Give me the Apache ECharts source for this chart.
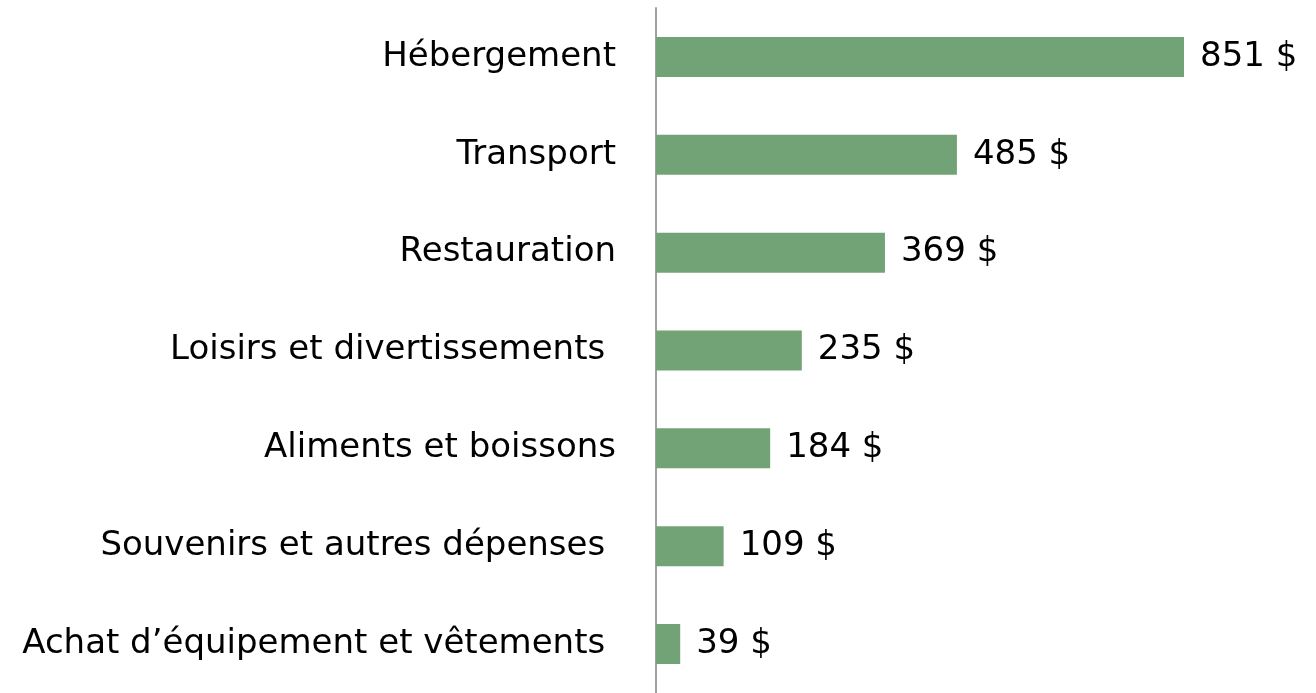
<!DOCTYPE html>
<html>
<head>
<meta charset="utf-8">
<script src="https://cdn.jsdelivr.net/npm/echarts@6/dist/echarts.min.js"></script>
<style>
  html, body { margin: 0; padding: 0; background: #fff; }
  #chart { width: 1316px; height: 693px; }
</style>
</head>
<body>
<div id="chart"></div>
<script>
// catégories (de haut en bas) et dépenses moyennes
const categories = [
  'Hébergement',
  'Transport',
  'Restauration',
  'Loisirs et divertissements ',
  'Aliments et boissons',
  'Souvenirs et autres dépenses ',
  'Achat d\u2019équipement et vêtements '
];
const values = [851, 485, 369, 235, 184, 109, 39];

const FONT = '"DejaVu Sans", sans-serif';

const chart = echarts.init(document.getElementById('chart'));
chart.setOption({
  animation: false,
  grid: { left: 656, right: 132, top: 8, height: 690 },
  xAxis: {
    type: 'value',
    min: 0,
    max: 851,
    show: false
  },
  yAxis: {
    type: 'category',
    data: categories,
    inverse: true,
    axisLine: { show: true, lineStyle: { color: '#a0a0a0', width: 2 } },
    axisTick: { show: false },
    axisLabel: { color: '#000', fontSize: 34, fontFamily: FONT, margin: 40 }
  },
  series: [{
    type: 'bar',
    data: values,
    barWidth: 40,
    itemStyle: { color: '#71a376' },
    label: {
      show: true,
      position: 'right',
      distance: 16,
      color: '#000',
      fontSize: 34,
      fontFamily: FONT,
      formatter: p => p.value + ' $'
    }
  }]
});
</script>
</body>
</html>
